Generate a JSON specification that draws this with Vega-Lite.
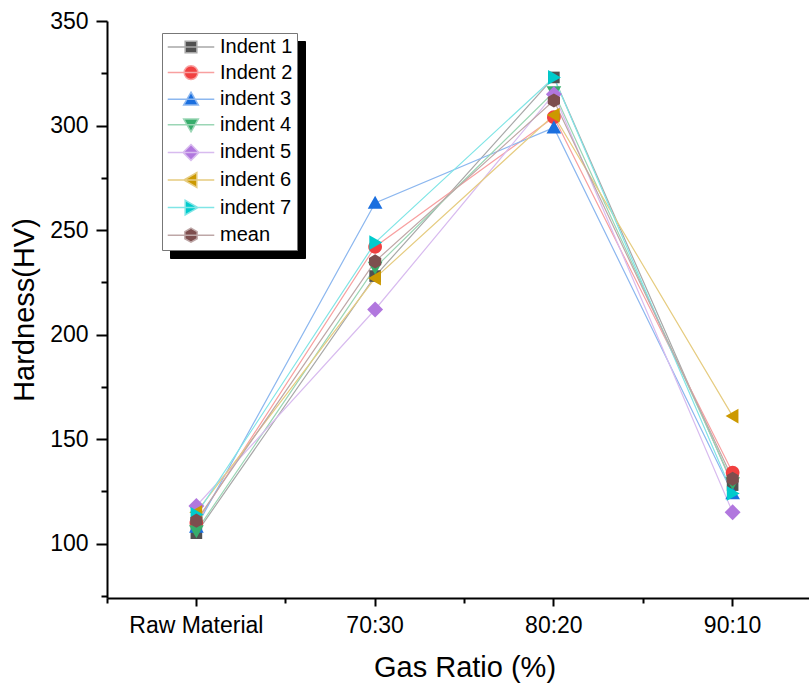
{
  "$schema": "https://vega.github.io/schema/vega-lite/v6.json",
  "width": 715,
  "height": 577,
  "autosize": {"type": "none"},
  "padding": {"left": 107, "top": 21, "right": 0, "bottom": 88},
  "background": "white",
  "config": {
    "view": {"stroke": null},
    "font": "Liberation Sans",
    "axis": {
      "grid": false,
      "domainColor": "black",
      "tickColor": "black",
      "domainWidth": 2,
      "tickWidth": 2,
      "labelColor": "black",
      "titleColor": "black",
      "labelFont": "Liberation Sans",
      "titleFont": "Liberation Sans",
      "titleFontWeight": "normal"
    }
  },
  "data": {
    "values": [
      {"ratio": "Raw Material", "series": "Indent 1", "hv": 105},
      {"ratio": "70:30", "series": "Indent 1", "hv": 228},
      {"ratio": "80:20", "series": "Indent 1", "hv": 323},
      {"ratio": "90:10", "series": "Indent 1", "hv": 128},
      {"ratio": "Raw Material", "series": "Indent 2", "hv": 110},
      {"ratio": "70:30", "series": "Indent 2", "hv": 242},
      {"ratio": "80:20", "series": "Indent 2", "hv": 304},
      {"ratio": "90:10", "series": "Indent 2", "hv": 134},
      {"ratio": "Raw Material", "series": "indent 3", "hv": 108},
      {"ratio": "70:30", "series": "indent 3", "hv": 263},
      {"ratio": "80:20", "series": "indent 3", "hv": 299},
      {"ratio": "90:10", "series": "indent 3", "hv": 124},
      {"ratio": "Raw Material", "series": "indent 4", "hv": 106},
      {"ratio": "70:30", "series": "indent 4", "hv": 232},
      {"ratio": "80:20", "series": "indent 4", "hv": 316},
      {"ratio": "90:10", "series": "indent 4", "hv": 129},
      {"ratio": "Raw Material", "series": "indent 5", "hv": 118},
      {"ratio": "70:30", "series": "indent 5", "hv": 212},
      {"ratio": "80:20", "series": "indent 5", "hv": 315},
      {"ratio": "90:10", "series": "indent 5", "hv": 115},
      {"ratio": "Raw Material", "series": "indent 6", "hv": 115},
      {"ratio": "70:30", "series": "indent 6", "hv": 227},
      {"ratio": "80:20", "series": "indent 6", "hv": 305},
      {"ratio": "90:10", "series": "indent 6", "hv": 161},
      {"ratio": "Raw Material", "series": "indent 7", "hv": 114},
      {"ratio": "70:30", "series": "indent 7", "hv": 244},
      {"ratio": "80:20", "series": "indent 7", "hv": 323},
      {"ratio": "90:10", "series": "indent 7", "hv": 124},
      {"ratio": "Raw Material", "series": "mean", "hv": 111},
      {"ratio": "70:30", "series": "mean", "hv": 235},
      {"ratio": "80:20", "series": "mean", "hv": 312},
      {"ratio": "90:10", "series": "mean", "hv": 131}
    ]
  },
  "layer": [
    {
      "mark": {"type": "line", "strokeWidth": 1.2},
      "encoding": {
        "x": {
          "field": "ratio", "type": "nominal",
          "scale": {"type": "band", "domain": ["Raw Material", "70:30", "80:20", "90:10"], "paddingInner": 0, "paddingOuter": 0},
          "axis": {"orient": "bottom", "bandPosition": 0.5, "labelAngle": 0, "tickSize": 8, "labelPadding": 8, "labelFontSize": 23, "title": "Gas Ratio (%)", "titleFontSize": 29, "titlePadding": 16}
        },
        "y": {
          "field": "hv", "type": "quantitative",
          "scale": {"domain": [74, 350], "nice": false, "zero": false},
          "axis": {"orient": "left", "values": [100, 150, 200, 250, 300, 350], "tickSize": 11, "labelPadding": 8, "labelFontSize": 23, "title": "Hardness(HV)", "titleFontSize": 29, "titlePadding": 10}
        },
        "stroke": {
          "field": "series", "type": "nominal",
          "scale": {"domain": ["Indent 1", "Indent 2", "indent 3", "indent 4", "indent 5", "indent 6", "indent 7", "mean"],
                    "range": ["#a8a8a8", "#f8a0a0", "#8cb7ef", "#9bd6b5", "#d8bbef", "#e6cc80", "#80e5e6", "#bea7a7"]},
          "legend": null
        },
        "order": {"value": null}
      }
    },
    {
      "mark": {"type": "point", "filled": true, "opacity": 1, "size": 150},
      "encoding": {
        "x": {
          "field": "ratio", "type": "nominal",
          "scale": {"type": "band", "domain": ["Raw Material", "70:30", "80:20", "90:10"], "paddingInner": 0, "paddingOuter": 0},
          "axis": {"orient": "bottom", "bandPosition": 0, "labels": false, "domain": false, "tickSize": 5, "title": null}
        },
        "y": {
          "field": "hv", "type": "quantitative",
          "scale": {"domain": [74, 350], "nice": false, "zero": false},
          "axis": {"orient": "left", "values": [75, 125, 175, 225, 275, 325], "labels": false, "domain": false, "tickSize": 6, "title": null}
        },
        "fill": {
          "field": "series", "type": "nominal",
          "scale": {"domain": ["Indent 1", "Indent 2", "indent 3", "indent 4", "indent 5", "indent 6", "indent 7", "mean"],
                    "range": ["#515151", "#f14040", "#1a6fdf", "#37ad6b", "#b177de", "#cc9900", "#00cbcc", "#7d4e4e"]},
          "legend": null
        },
        "shape": {
          "field": "series", "type": "nominal",
          "scale": {"domain": ["Indent 1", "Indent 2", "indent 3", "indent 4", "indent 5", "indent 6", "indent 7", "mean"],
                    "range": [
                      "M-0.95,-0.95H0.95V0.95H-0.95Z",
                      "M-1.12,0A1.12,1.12,0,1,0,1.12,0A1.12,1.12,0,1,0,-1.12,0Z",
                      "M0,-1.15L1.2,0.95L-1.2,0.95Z",
                      "M0,1.15L1.2,-0.95L-1.2,-0.95Z",
                      "M0,-1.3L1.3,0L0,1.3L-1.3,0Z",
                      "M-1.15,0L0.95,-1.2L0.95,1.2Z",
                      "M1.15,0L-0.95,-1.2L-0.95,1.2Z",
                      "M0,-1.15L1,-0.575L1,0.575L0,1.15L-1,0.575L-1,-0.575Z"
                    ]},
          "legend": null
        }
      }
    },
    {
      "transform": [{"filter": "false"}],
      "mark": {"type": "point", "filled": true, "opacity": 1, "size": 150, "strokeWidth": 1.5},
      "encoding": {
        "fill": {
          "field": "series", "type": "nominal",
          "scale": {"domain": ["Indent 1", "Indent 2", "indent 3", "indent 4", "indent 5", "indent 6", "indent 7", "mean"],
                    "range": ["#000000", "#000000", "#000000", "#000000", "#000000", "#000000", "#000000", "#000000"]},
          "legend": {"orient": "none", "legendX": 63, "legendY": 20, "title": null, "padding": 4, "fillColor": "black", "strokeColor": "black", "labelFont": "Liberation Sans", "labelFontSize": 20, "labelColor": "black", "labelExpr": "'\u2003\u2003\u2003\u2002'", "symbolSize": 150, "symbolStrokeWidth": 1.5, "symbolStrokeColor": "black", "symbolOffset": 15, "labelOffset": 92, "rowPadding": 5.6, "zindex": 0}
        },
        "stroke": {
          "field": "series", "type": "nominal",
          "scale": {"domain": ["Indent 1", "Indent 2", "indent 3", "indent 4", "indent 5", "indent 6", "indent 7", "mean"],
                    "range": ["#000000", "#000000", "#000000", "#000000", "#000000", "#000000", "#000000", "#000000"]},
          "legend": {"orient": "none", "legendX": 63, "legendY": 20, "title": null, "padding": 4, "fillColor": "black", "strokeColor": "black", "labelFont": "Liberation Sans", "labelFontSize": 20, "labelColor": "black", "labelExpr": "'\u2003\u2003\u2003\u2002'", "symbolSize": 150, "symbolStrokeWidth": 1.5, "symbolStrokeColor": "black", "symbolOffset": 15, "labelOffset": 92, "rowPadding": 5.6, "zindex": 0}
        },
        "shape": {
          "field": "series", "type": "nominal",
          "scale": {"domain": ["Indent 1", "Indent 2", "indent 3", "indent 4", "indent 5", "indent 6", "indent 7", "mean"],
                    "range": [
                      "M-3.8,0H3.8M-0.95,-0.95H0.95V0.95H-0.95Z",
                      "M-3.8,0H3.8M-1.12,0A1.12,1.12,0,1,0,1.12,0A1.12,1.12,0,1,0,-1.12,0Z",
                      "M-3.8,0H3.8M0,-1.15L1.2,0.95L-1.2,0.95Z",
                      "M-3.8,0H3.8M0,1.15L1.2,-0.95L-1.2,-0.95Z",
                      "M-3.8,0H3.8M0,-1.3L1.3,0L0,1.3L-1.3,0Z",
                      "M-3.8,0H3.8M-1.15,0L0.95,-1.2L0.95,1.2Z",
                      "M-3.8,0H3.8M1.15,0L-0.95,-1.2L-0.95,1.2Z",
                      "M-3.8,0H3.8M0,-1.15L1,-0.575L1,0.575L0,1.15L-1,0.575L-1,-0.575Z"
                    ]},
          "legend": {"orient": "none", "legendX": 63, "legendY": 20, "title": null, "padding": 4, "fillColor": "black", "strokeColor": "black", "labelFont": "Liberation Sans", "labelFontSize": 20, "labelColor": "black", "labelExpr": "'\u2003\u2003\u2003\u2002'", "symbolSize": 150, "symbolStrokeWidth": 1.5, "symbolStrokeColor": "black", "symbolOffset": 15, "labelOffset": 92, "rowPadding": 5.6, "zindex": 0}
        }
      }
    },
    {
      "transform": [{"filter": "false"}],
      "mark": {"type": "point", "filled": true, "opacity": 1, "size": 150, "strokeWidth": 1.5},
      "encoding": {
        "fill": {
          "field": "series", "type": "nominal",
          "scale": {"domain": ["Indent 1", "Indent 2", "indent 3", "indent 4", "indent 5", "indent 6", "indent 7", "mean"],
                    "range": ["#515151", "#f14040", "#1a6fdf", "#37ad6b", "#b177de", "#cc9900", "#00cbcc", "#7d4e4e"]},
          "legend": {"orient": "none", "legendX": 55, "legendY": 12, "title": null, "padding": 4, "fillColor": "white", "strokeColor": "#777777", "labelFont": "Liberation Sans", "labelFontSize": 20, "labelColor": "black", "symbolSize": 150, "symbolStrokeWidth": 1.5, "symbolOffset": 15, "labelOffset": 19, "rowPadding": 5.6, "zindex": 1}
        },
        "stroke": {
          "field": "series", "type": "nominal",
          "scale": {"domain": ["Indent 1", "Indent 2", "indent 3", "indent 4", "indent 5", "indent 6", "indent 7", "mean"],
                    "range": ["#a8a8a8", "#f8a0a0", "#8cb7ef", "#9bd6b5", "#d8bbef", "#e6cc80", "#80e5e6", "#bea7a7"]},
          "legend": {"orient": "none", "legendX": 55, "legendY": 12, "title": null, "padding": 4, "fillColor": "white", "strokeColor": "#777777", "labelFont": "Liberation Sans", "labelFontSize": 20, "labelColor": "black", "symbolSize": 150, "symbolStrokeWidth": 1.5, "symbolOffset": 15, "labelOffset": 19, "rowPadding": 5.6, "zindex": 1}
        },
        "shape": {
          "field": "series", "type": "nominal",
          "scale": {"domain": ["Indent 1", "Indent 2", "indent 3", "indent 4", "indent 5", "indent 6", "indent 7", "mean"],
                    "range": [
                      "M-3.8,0H3.8M-0.95,-0.95H0.95V0.95H-0.95Z",
                      "M-3.8,0H3.8M-1.12,0A1.12,1.12,0,1,0,1.12,0A1.12,1.12,0,1,0,-1.12,0Z",
                      "M-3.8,0H3.8M0,-1.15L1.2,0.95L-1.2,0.95Z",
                      "M-3.8,0H3.8M0,1.15L1.2,-0.95L-1.2,-0.95Z",
                      "M-3.8,0H3.8M0,-1.3L1.3,0L0,1.3L-1.3,0Z",
                      "M-3.8,0H3.8M-1.15,0L0.95,-1.2L0.95,1.2Z",
                      "M-3.8,0H3.8M1.15,0L-0.95,-1.2L-0.95,1.2Z",
                      "M-3.8,0H3.8M0,-1.15L1,-0.575L1,0.575L0,1.15L-1,0.575L-1,-0.575Z"
                    ]},
          "legend": {"orient": "none", "legendX": 55, "legendY": 12, "title": null, "padding": 4, "fillColor": "white", "strokeColor": "#777777", "labelFont": "Liberation Sans", "labelFontSize": 20, "labelColor": "black", "symbolSize": 150, "symbolStrokeWidth": 1.5, "symbolOffset": 15, "labelOffset": 19, "rowPadding": 5.6, "zindex": 1}
        }
      }
    }
  ],
  "resolve": {
    "scale": {"fill": "independent", "stroke": "independent", "shape": "independent"},
    "axis": {"x": "independent", "y": "independent"}
  }
}
